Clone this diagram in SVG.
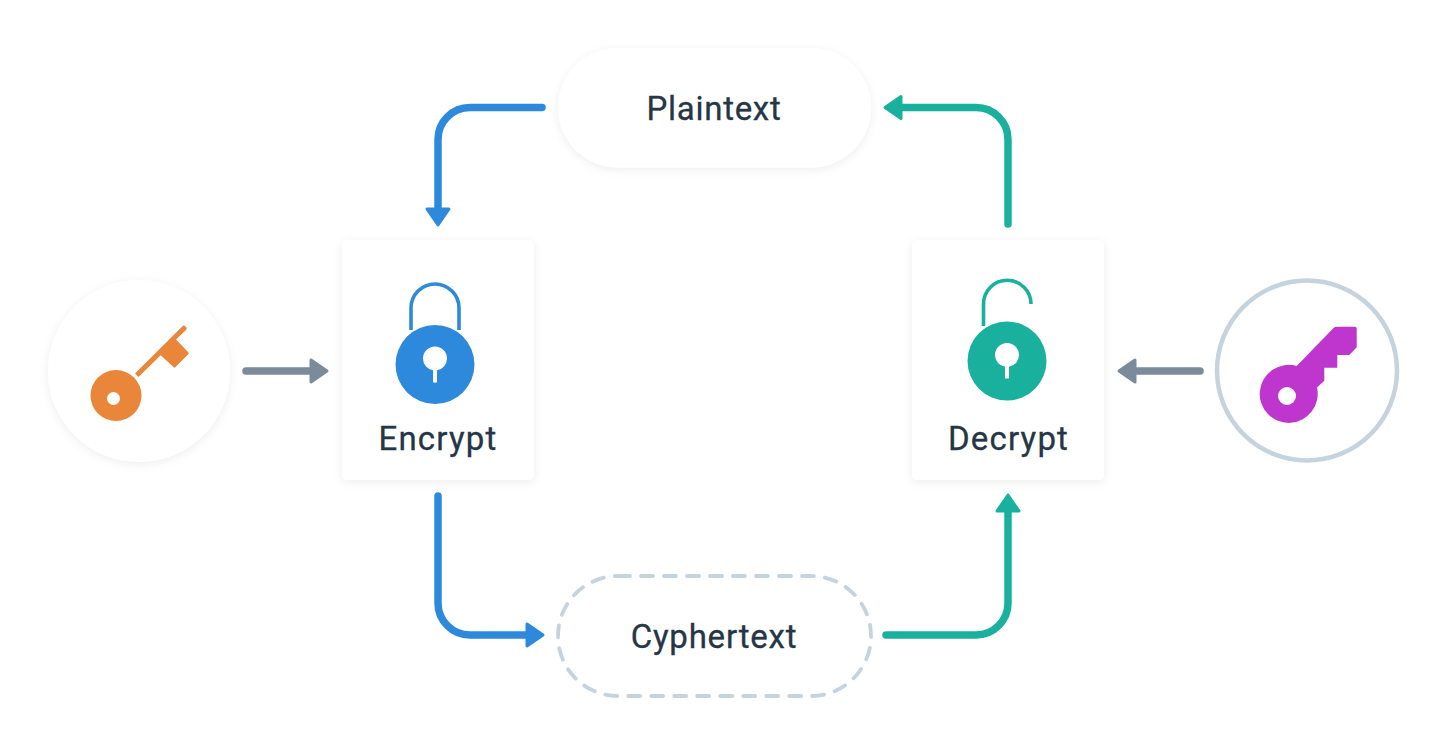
<svg xmlns="http://www.w3.org/2000/svg" width="1446" height="744" viewBox="0 0 1446 744">
<style>
.card{fill:#fff;filter:url(#sh)}
.lbl{font-family:Roboto,"Noto Sans",sans-serif;font-size:33px;font-weight:400;letter-spacing:1.2px;fill:#263646;stroke:#263646;stroke-width:.3px;text-anchor:middle}
.conn{fill:none;stroke-width:7.5;stroke-linecap:round;stroke-linejoin:round}
.blue{stroke:#2d89dc}.teal{stroke:#1ab09e}.grey{stroke:#7a8b9b}
.shk{fill:none;stroke-width:3.6}
</style>
<defs>
<filter id="sh" x="-20%" y="-20%" width="140%" height="150%"><feDropShadow dx="0" dy="2" stdDeviation="5" flood-color="#000" flood-opacity="0.07"/></filter>
<marker id="hb" markerUnits="userSpaceOnUse" markerWidth="24" markerHeight="32" refX="1" refY="16" orient="auto"><path d="M2,5 L18,16 L2,27 Z" fill="#2d89dc" stroke="#2d89dc" stroke-width="3" stroke-linejoin="round"/></marker>
<marker id="ht" markerUnits="userSpaceOnUse" markerWidth="24" markerHeight="32" refX="1" refY="16" orient="auto"><path d="M2,5 L18,16 L2,27 Z" fill="#1ab09e" stroke="#1ab09e" stroke-width="3" stroke-linejoin="round"/></marker>
<marker id="hg" markerUnits="userSpaceOnUse" markerWidth="24" markerHeight="32" refX="1" refY="16" orient="auto"><path d="M2,5 L18,16 L2,27 Z" fill="#7a8b9b" stroke="#7a8b9b" stroke-width="3" stroke-linejoin="round"/></marker>
</defs>
<rect width="1446" height="744" fill="#fff"/>
<g id="connectors">
<path class="conn blue" marker-end="url(#hb)" d="M542,107.500 H470 A32,32 0 0 0 438,139.500 V208"/>
<path class="conn teal" marker-end="url(#ht)" d="M1008,224 V139.500 A32,32 0 0 0 976,107.500 H902"/>
<path class="conn blue" marker-end="url(#hb)" d="M438,496 V603 A32,32 0 0 0 470,635 H526"/>
<path class="conn teal" marker-end="url(#ht)" d="M886,635 H976 A32,32 0 0 0 1008,603 V512"/>
<path class="conn grey" marker-end="url(#hg)" d="M246,371 H310"/>
<path class="conn grey" marker-end="url(#hg)" d="M1200,371 H1136"/>
</g>
<g id="plaintext">
<rect class="card" x="558" y="48" width="313" height="119.500" rx="60"/>
<text class="lbl" x="714" y="120" style="letter-spacing:.7px">Plaintext</text>
</g>
<g id="cyphertext">
<rect x="558" y="576" width="313" height="120" rx="60" fill="#fff" stroke="#c5d3de" stroke-width="3.800" stroke-dasharray="12 11" stroke-linecap="round"/>
<text class="lbl" x="714" y="648" style="letter-spacing:.8px">Cyphertext</text>
</g>
<g id="encrypt">
<rect class="card" x="342" y="240" width="192" height="240" rx="5"/>
<path class="shk" stroke="#2d89dc" d="M411,330 V308 A24,24 0 0 1 459,308 V330"/>
<path fill="#2d89dc" fill-rule="evenodd" d="M395.500,364.500 A39.500,39.500 0 1 0 474.500,364.500 A39.500,39.500 0 1 0 395.500,364.500 Z M423,358.500 A12,12 0 0 1 447,358.500 A12,12 0 0 1 437,370.300 V382.500 H433 V370.300 A12,12 0 0 1 423,358.500 Z"/>
<text class="lbl" x="438" y="450">Encrypt</text>
</g>
<g id="decrypt">
<rect class="card" x="912" y="240" width="192" height="240" rx="5"/>
<path class="shk" stroke="#1ab09e" d="M983.500,326 V304 A23.750,23.750 0 0 1 1031,304"/>
<path fill="#1ab09e" fill-rule="evenodd" d="M967.500,361 A39.500,39.500 0 1 0 1046.500,361 A39.500,39.500 0 1 0 967.500,361 Z M995,355 A12,12 0 0 1 1019,355 A12,12 0 0 1 1009,366.800 V378.500 H1005 V366.800 A12,12 0 0 1 995,355 Z"/>
<text class="lbl" x="1008.500" y="450">Decrypt</text>
</g>
<g id="key-public">
<circle class="card" cx="139" cy="371" r="91"/>
<circle cx="116" cy="395.500" r="25.500" fill="#ea8639"/>
<circle cx="113.500" cy="398.500" r="6.500" fill="#fff"/>
<path fill="#ea8639" d="M135,373.500 L183,325.700 Q184,325 185,326 L186.500,327.500 Q187,329 186,330 L176,339.500 L188.500,352.500 Q189,353.500 188,354.500 L175.500,367 Q174.500,368 173.500,367 L160.700,355.300 L138.500,377 Z"/>
</g>
<g id="key-private">
<circle cx="1307" cy="370.500" r="90" fill="#fff" stroke="#c5d3de" stroke-width="4.500"/>
<path fill="#bf36cf" fill-rule="evenodd" d="M1296.700,366 L1333.500,328 Q1335,326.700 1337,326.700 H1355 Q1356.700,326.700 1356.700,328.500 V347.300 L1349.300,355 H1337.300 V367.700 H1324.300 V380.700 L1317,387.500 A29,29 0 1 1 1296.700,366 Z M1278,396 A9,9 0 1 0 1296,396 A9,9 0 1 0 1278,396 Z"/>
</g>
</svg>
